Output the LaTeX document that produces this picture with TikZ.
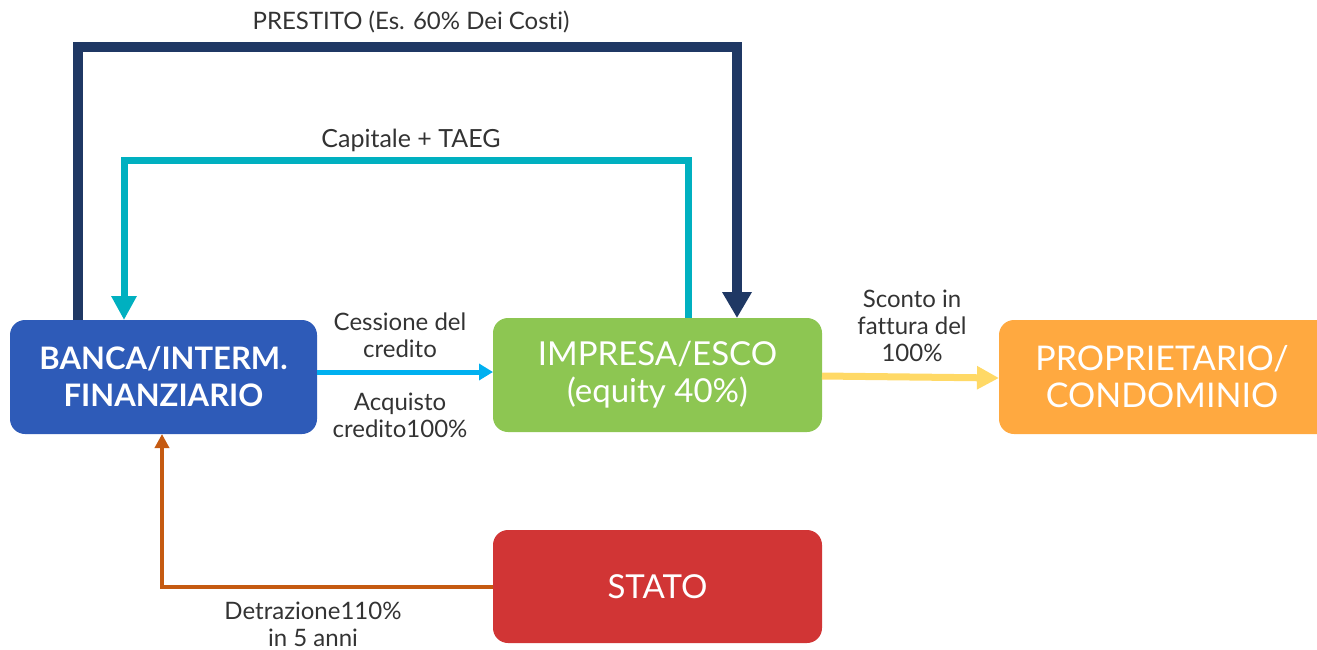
\documentclass[tikz,border=0pt]{standalone}
\usepackage{fontspec}
\setmainfont{Lato}[Ligatures={NoCommon}]
\usetikzlibrary{arrows.meta}
\definecolor{bancab}{HTML}{2E5BB8}
\definecolor{impg}{HTML}{8DC652}
\definecolor{propo}{HTML}{FFA940}
\definecolor{stator}{HTML}{D13535}
\definecolor{navy}{HTML}{1F3864}
\definecolor{teal}{HTML}{00B0C0}
\definecolor{lblue}{HTML}{00B0F0}
\definecolor{yel}{HTML}{FFD966}
\definecolor{rust}{HTML}{C55A11}
\definecolor{txt}{HTML}{333333}
\tikzset{
  box/.style={draw=none, text=white, align=center, font=\fontsize{33}{37}\selectfont},
  lbl/.style={text=txt, align=center, font=\fontsize{24}{27}\selectfont, inner sep=0pt},
}
\begin{document}
\begin{tikzpicture}[x=1pt,y=-1pt]
\useasboundingbox (0,0) rectangle (1317,649);
% boxes
\fill[bancab, rounded corners=15pt] (10,320) rectangle (317,434);
\node[box, font=\bfseries\fontsize{31}{37}\selectfont] (banca) at (163.5,377) {BANCA/INTERM.\\FINANZIARIO};
\fill[impg, rounded corners=15pt] (493,318) rectangle (822,432);
\node[box] (impresa) at (657.5,375) {IMPRESA/ESCO\\(equity 40\%)};
\fill[propo, rounded corners=15pt] (999,320) rectangle (1340,434);
\node[box, font=\fontsize{34}{37}\selectfont] (prop) at (1162,377) {PROPRIETARIO/\\CONDOMINIO};
\fill[stator, rounded corners=15pt] (493,530) rectangle (822,643);
\node[box] (stato) at (657.5,586.5) {STATO};
% anchor coordinates
\coordinate (bT1) at (78,320);
\coordinate (bT2) at (124,320);
\coordinate (bR) at (317,372);
\coordinate (bB) at (162,434);
\coordinate (iT1) at (737,318);
\coordinate (iT2) at (688,318);
\coordinate (iL) at (493,372);
\coordinate (iR) at (822,376);
\coordinate (pL) at (999,378);
\coordinate (sL) at (493,587);
% connectors
\draw[navy, line width=10pt, -{Triangle[length=26pt,width=28pt]}] (bT1) -- (78,47) -- (737,47) -- (iT1);
\draw[teal, line width=7pt, -{Triangle[length=24pt,width=24pt]}] (iT2) -- (688,160) -- (124,160) -- (bT2);
\draw[lblue, line width=5pt, -{Triangle[length=14pt,width=16pt]}] (bR) -- (iL);
\draw[yel, line width=7pt, -{Triangle[length=22pt,width=22pt]}] (iR) -- (pL);
\draw[rust, line width=4pt, -{Triangle[length=14pt,width=14pt]}] (sL) -- (162,587) -- (bB);
% labels
\node[lbl] (l1) at (411,22) {PRESTITO (Es. 60\% Dei Cos\kern0pt ti)};
\node[lbl, font=\fontsize{25}{27}\selectfont] (l2) at (411,140) {Capitale + TAEG};
\node[lbl] (l3) at (400,335) {Cessione del\\credito};
\node[lbl] (l4) at (400,415) {Acquisto\\credito100\%};
\node[lbl] (l5) at (912,326) {Sconto in\\fattura del\\100\%};
\node[lbl] (l6) at (313,624) {Detrazione110\%\\in 5 anni};
\end{tikzpicture}
\end{document}
